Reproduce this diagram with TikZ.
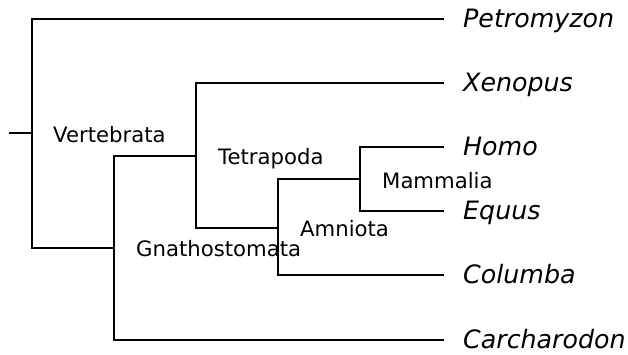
\documentclass[tikz,border=0pt]{standalone}
\usepackage{fontspec}
\setmainfont{DejaVu Sans}
\begin{document}
\begin{tikzpicture}[x=1bp,y=-1bp,
  branch/.style={line width=2bp,line cap=rect},
  clade/.style={anchor=base west,inner sep=0pt,font=\fontsize{21.2bp}{24bp}\selectfont},
  taxon/.style={anchor=base west,inner sep=0pt,font=\fontsize{25.3bp}{28bp}\selectfont\itshape}]
\useasboundingbox (0,0) rectangle (628,354);
% internal nodes
\coordinate (stub) at (10,133);
\coordinate (vert) at (32,133);
\coordinate (gnath) at (114,247.5);
\coordinate (tetra) at (196,155.5);
\coordinate (amnio) at (278,227.5);
\coordinate (mamma) at (360,179);
% tips
\coordinate (tPetro) at (443,19);
\coordinate (tXeno) at (443,83);
\coordinate (tHomo) at (443,147);
\coordinate (tEquus) at (443,211);
\coordinate (tColu) at (443,275);
\coordinate (tCarch) at (443,340);
% labels
\node[taxon] (Petro) at (463,27.7) {Petromyzon};
\node[taxon] (Xeno) at (463,91.7) {Xenopus};
\node[taxon] (Homo) at (463,155.7) {Homo};
\node[taxon] (Equus) at (463,219.7) {Equus};
\node[taxon] (Colu) at (463,283.7) {Columba};
\node[taxon] (Carch) at (463,348.7) {Carcharodon};
\node[clade] (lVert) at (53,142) {Vertebrata};
\node[clade] (lTetra) at (218,164.3) {Tetrapoda};
\node[clade] (lGnath) at (136,256) {Gnathostomata};
\node[clade] (lAmnio) at (300,236) {Amniota};
\node[clade] (lMamma) at (382,188.3) {Mammalia};
% branches
\draw[branch] (stub) -- (vert);
\draw[branch] (vert) |- (tPetro);
\draw[branch] (vert) |- (gnath);
\draw[branch] (gnath) |- (tetra);
\draw[branch] (gnath) |- (tCarch);
\draw[branch] (tetra) |- (tXeno);
\draw[branch] (tetra) |- (amnio);
\draw[branch] (amnio) |- (mamma);
\draw[branch] (amnio) |- (tColu);
\draw[branch] (mamma) |- (tHomo);
\draw[branch] (mamma) |- (tEquus);
\end{tikzpicture}
\end{document}
